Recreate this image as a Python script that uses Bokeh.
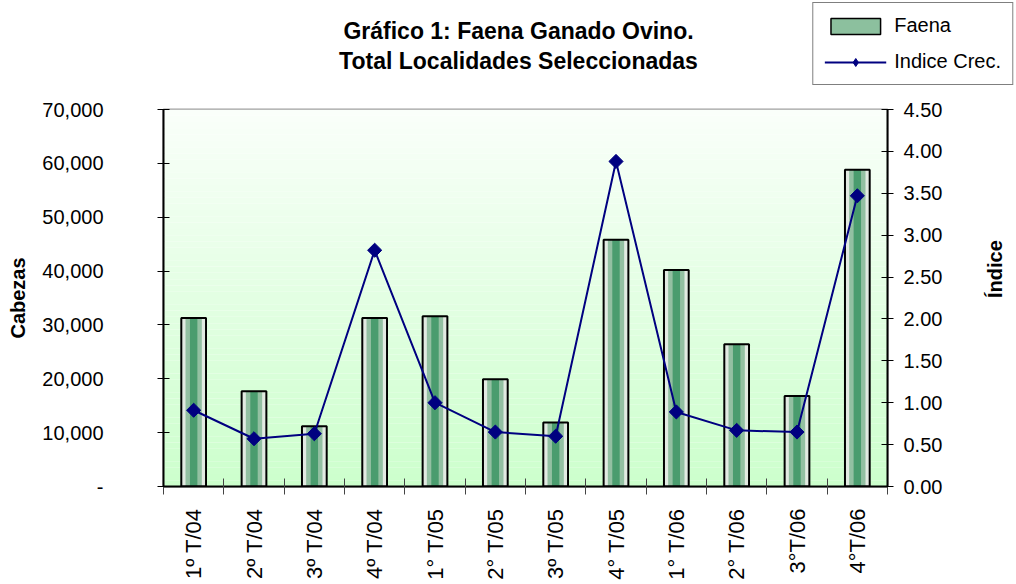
import numpy as np
from bokeh.plotting import figure
from bokeh.layouts import column
from bokeh.models import (Range1d, LinearAxis, FixedTicker, NumeralTickFormatter,
                          BoxAnnotation, Legend, LegendItem, Label)
from bokeh.embed import file_html
from bokeh.resources import INLINE

# ---- data ----
categories = ["1º T/04", "2º T/04", "3º T/04", "4º T/04", "1° T/05", "2° T/05",
              "3º T/05", "4° T/05", "1° T/06", "2° T/06", "3°T/06", "4°T/06"]
faena = [31300, 17700, 11200, 31300, 31600, 19900, 11900, 45800, 40200, 26400, 16800, 58800]
indice = [0.91, 0.57, 0.63, 2.82, 1.00, 0.65, 0.60, 3.88, 0.89, 0.67, 0.65, 3.47]
left_ticks = [0, 10000, 20000, 30000, 40000, 50000, 60000, 70000]
right_ticks = [0, 0.5, 1.0, 1.5, 2.0, 2.5, 3.0, 3.5, 4.0, 4.5]
title_lines = ["Gráfico 1: Faena Ganado Ovino.", "Total Localidades Seleccionadas"]
series_names = ["Faena", "Indice Crec."]

FONT = "Liberation Sans"
LEFT = 163
FRAME_W = 724
W = 1015
TOP_H = 100
n = len(categories)
xc = np.arange(n) + 0.5

BAR_LIGHT, BAR_MID, BAR_DARK = "#e2eae2", "#93c0a2", "#4a9c6e"
LINE_COLOR = "#000080"

# ---------- header: title + legend ----------
HW = W - LEFT
tf = figure(title=None, frame_width=HW, frame_height=TOP_H,
            x_range=Range1d(0, HW), y_range=Range1d(TOP_H, 0),
            x_axis_type=None, y_axis_type=None, output_backend="svg",
            toolbar_location=None, min_border_left=LEFT,
            min_border_right=0, min_border_top=0, min_border_bottom=0)
tf.grid.visible = False
tf.outline_line_color = None
tf.background_fill_color = "white"
tf.border_fill_color = "white"

for txt, yb in zip(title_lines, [30, 60]):
    tf.add_layout(Label(x=518 - LEFT, y=yb, text=txt, text_align="center",
                        text_baseline="alphabetic", text_font=FONT,
                        text_font_size="23px", text_font_style="bold",
                        text_color="black"))

# hidden copies of the series, used only to draw the legend icons
lg_bar = tf.vbar(x=xc, top=faena, width=0.41, fill_color="#8cc09e", line_color="black",
                 line_width=1.5, visible=False)
lg_line = tf.line(x=xc, y=indice, line_color=LINE_COLOR, line_width=2, visible=False)
lg_pts = tf.scatter(x=xc, y=indice, marker="diamond", size=14,
                    fill_color=LINE_COLOR, line_color=LINE_COLOR, visible=False)
legend = Legend(items=[LegendItem(label=series_names[0], renderers=[lg_bar]),
                       LegendItem(label=series_names[1], renderers=[lg_line, lg_pts])],
                location="top_right", glyph_width=62, glyph_height=20,
                label_text_font=FONT, label_text_font_size="20px",
                label_text_color="black",
                label_standoff=8, label_height=20, padding=11, spacing=13,
                margin=2, border_line_color="black", border_line_width=1,
                background_fill_color="white", background_fill_alpha=1)
tf.add_layout(legend, "center")

# ---------- main chart ----------
p = figure(frame_width=FRAME_W, frame_height=377,
           x_range=Range1d(0, n), y_range=Range1d(0, 70000),
           output_backend="svg", toolbar_location=None,
           min_border_left=LEFT, min_border_right=W - LEFT - FRAME_W,
           min_border_top=9, min_border_bottom=98)
p.extra_y_ranges = {"idx": Range1d(0, 4.5)}
p.xgrid.visible = False
p.ygrid.visible = False
p.background_fill_color = "white"
p.border_fill_color = "white"
p.outline_line_color = "#a0a0a0"
p.outline_line_width = 2

# background gradient
nb = 60
top_c = np.array([250, 255, 250])
bot_c = np.array([204, 255, 204])
for i in range(nb):
    t = (i + 0.5) / nb
    c = bot_c + (top_c - bot_c) * t
    col = "#%02x%02x%02x" % tuple(int(round(v)) for v in c)
    p.add_layout(BoxAnnotation(bottom=70000 * i / nb, top=70000 * (i + 1) / nb,
                               fill_color=col, fill_alpha=1, line_color=None, level="underlay"))

# bars with striped "gradient"
bw = 0.41
p.vbar(x=xc, top=faena, width=bw, fill_color=BAR_LIGHT, line_color=None)
p.vbar(x=xc, top=faena, width=bw * 0.66, fill_color=BAR_MID, line_color=None)
p.vbar(x=xc, top=faena, width=bw * 0.3, fill_color=BAR_DARK, line_color=None)
p.vbar(x=xc, top=faena, width=bw, fill_color=None, line_color="black", line_width=2)

# index line
p.line(xc, indice, y_range_name="idx", line_color=LINE_COLOR, line_width=2)
p.scatter(xc, indice, y_range_name="idx", marker="square", angle=np.pi / 4,
          size=10, fill_color=LINE_COLOR, line_color=LINE_COLOR)

# x axis
p.xaxis.ticker = FixedTicker(ticks=list(xc), minor_ticks=list(range(n + 1)))
p.xaxis.major_label_overrides = {float(x): c for x, c in zip(xc, categories)}
p.xaxis.major_label_orientation = np.pi / 2
p.xaxis.major_tick_line_color = None
p.xaxis.major_tick_out = 8
p.xaxis.major_tick_in = 0
p.xaxis.minor_tick_out = 8
p.xaxis.minor_tick_in = 8
p.xaxis.minor_tick_line_color = "#444444"
p.xaxis.major_label_standoff = 14
p.xaxis.major_label_text_font = FONT
p.xaxis.major_label_text_font_size = "22px"
p.xaxis.major_label_text_color = "black"
p.xaxis.axis_line_color = "black"
p.xaxis.axis_line_width = 2

# left axis
p.yaxis.ticker = FixedTicker(ticks=left_ticks)
p.yaxis.major_label_overrides = {v: ("-" if v == 0 else f"{v:,}") for v in left_ticks}
p.yaxis.major_tick_out = 6
p.yaxis.major_tick_in = 6
p.yaxis.minor_tick_line_color = None
p.yaxis.major_label_standoff = 54
p.yaxis.major_label_text_font = FONT
p.yaxis.major_label_text_font_size = "20px"
p.yaxis.major_label_text_color = "black"
p.yaxis.axis_line_color = "black"
p.yaxis.axis_line_width = 2
p.yaxis.axis_label = "Cabezas"
p.yaxis.axis_label_text_font = FONT
p.yaxis.axis_label_text_font_style = "bold"
p.yaxis.axis_label_text_font_size = "20px"
p.yaxis.axis_label_text_color = "black"
p.yaxis.axis_label_standoff = 10

# right axis
ra = LinearAxis(y_range_name="idx", ticker=FixedTicker(ticks=right_ticks),
                formatter=NumeralTickFormatter(format="0.00"))
ra.major_tick_out = 6
ra.major_tick_in = 6
ra.minor_tick_line_color = None
ra.major_label_standoff = 10
ra.major_label_text_font = FONT
ra.major_label_text_font_size = "20px"
ra.major_label_text_color = "black"
ra.axis_line_color = "black"
ra.axis_line_width = 2
ra.axis_label = "Índice"
ra.axis_label_text_font = FONT
ra.axis_label_text_font_style = "bold"
ra.axis_label_text_font_size = "20px"
ra.axis_label_text_color = "black"
ra.axis_label_standoff = 50
ra.axis_label_orientation = np.pi / 2
p.add_layout(ra, "right")

root = column(tf, p, spacing=0)
open("out.html", "w").write(file_html(root, INLINE))
